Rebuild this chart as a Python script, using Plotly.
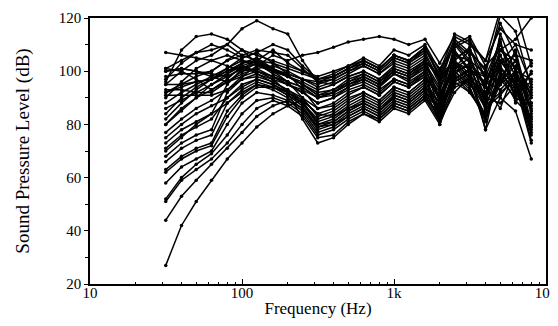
import plotly.graph_objects as go

freqs = [31.5, 40, 50, 63, 80, 100, 125, 160, 200, 250, 315, 400, 500, 630,
         800, 1000, 1250, 1600, 2000, 2500, 3150, 4000, 5000, 6300, 8000]

c01 = [95, 100, 104, 106, 110, 116, 119, 116, 114, 104, 96, 95, 98, 100, 97, 102, 100, 104, 98, 104, 109, 92, 103, 110, 95]
c02 = [96, 108, 113, 114, 112, 108, 103, 100, 98, 95, 92, 93, 96, 99, 96, 101, 99, 103, 90, 108, 100, 99, 95, 104, 88]
c03 = [107, 106, 105, 104, 102, 100, 101, 102, 100, 97, 94, 96, 99, 102, 99, 104, 102, 106, 95, 111, 106, 88, 114, 100, 97]
c04 = [101, 104, 107, 108, 110, 106, 104, 108, 103, 100, 98, 100, 102, 104, 101, 106, 104, 108, 101, 109, 112, 97, 106, 95, 103]
c05 = [100, 101, 100, 98, 96, 98, 102, 106, 104, 106, 107, 109, 111, 112, 113, 112, 110, 112, 103, 113, 110, 104, 116, 110, 108]
c06 = [92, 95, 98, 100, 104, 108, 106, 104, 102, 100, 97, 98, 101, 103, 100, 105, 103, 107, 96, 105, 108, 100, 95, 108, 85]
c07 = [100, 101, 100, 99, 98, 101, 104, 100, 99, 97, 95, 97, 100, 102, 99, 103, 101, 105, 88, 110, 103, 94, 110, 98, 92]
c08 = [95, 95, 96, 97, 99, 103, 105, 101, 98, 96, 93, 95, 98, 100, 97, 101, 99, 104, 97, 104, 99, 86, 103, 106, 80]
c09 = [93, 93, 92, 92, 96, 100, 103, 99, 96, 94, 90, 92, 96, 98, 95, 99, 97, 102, 85, 107, 101, 95, 100, 92, 96]
c10 = [91, 91, 91, 91, 93, 98, 100, 98, 95, 92, 88, 90, 94, 96, 93, 97, 95, 100, 92, 101, 105, 90, 108, 101, 86]
c11 = [101, 100, 97, 93, 97, 102, 99, 97, 95, 93, 90, 92, 95, 97, 94, 99, 97, 101, 89, 103, 96, 83, 98, 104, 90]
c12 = [84, 90, 94, 97, 100, 102, 104, 101, 98, 95, 91, 93, 97, 99, 96, 100, 98, 103, 94, 107, 100, 98, 111, 93, 99]
c13 = [80, 86, 90, 93, 96, 99, 101, 98, 95, 92, 88, 90, 93, 95, 92, 97, 95, 99, 83, 100, 102, 88, 97, 107, 84]
c14 = [77, 82, 86, 89, 93, 97, 99, 96, 93, 90, 86, 88, 92, 94, 91, 96, 94, 98, 90, 104, 97, 92, 104, 96, 78]
c15 = [75, 80, 84, 87, 90, 94, 97, 95, 92, 89, 84, 86, 90, 92, 89, 94, 92, 97, 82, 99, 103, 85, 96, 102, 93]
c16 = [73, 78, 81, 84, 88, 92, 95, 94, 91, 88, 82, 84, 88, 91, 88, 93, 91, 96, 88, 102, 95, 89, 106, 94, 82]
c17 = [71, 76, 79, 82, 90, 95, 97, 95, 92, 88, 81, 83, 87, 90, 87, 92, 90, 95, 84, 97, 100, 96, 93, 99, 76]
c18 = [68, 73, 76, 78, 92, 97, 98, 96, 93, 89, 80, 82, 86, 89, 86, 91, 89, 94, 86, 100, 94, 81, 100, 91, 88]
c19 = [66, 71, 74, 76, 88, 93, 96, 94, 91, 87, 79, 81, 85, 88, 85, 90, 88, 93, 81, 96, 99, 87, 92, 97, 74]
c20 = [63, 68, 71, 73, 85, 91, 95, 93, 90, 86, 78, 80, 84, 87, 84, 89, 87, 92, 87, 98, 92, 84, 99, 89, 83]
c21 = [58, 64, 67, 70, 80, 88, 92, 91, 89, 85, 77, 79, 83, 86, 83, 88, 86, 91, 82, 95, 97, 90, 88, 95, 77]
c22 = [52, 60, 65, 69, 76, 84, 89, 90, 88, 84, 76, 78, 82, 85, 82, 87, 85, 90, 84, 99, 93, 82, 97, 90, 87]
c23 = [51, 59, 63, 67, 73, 80, 86, 89, 87, 83, 75, 76, 81, 84, 81, 86, 84, 89, 80, 94, 96, 86, 91, 98, 79]
c24 = [44, 53, 59, 65, 71, 77, 83, 87, 89, 86, 79, 80, 83, 86, 83, 88, 86, 91, 86, 97, 101, 89, 102, 93, 81]
c25 = [27, 42, 51, 59, 67, 73, 79, 84, 87, 89, 84, 83, 86, 88, 85, 90, 88, 93, 85, 96, 92, 83, 95, 100, 85]
c26 = [80, 85, 90, 95, 99, 102, 100, 97, 92, 82, 73, 75, 80, 84, 82, 87, 85, 90, 81, 92, 98, 78, 90, 85, 67]
c27 = [98, 99, 99, 100, 104, 106, 108, 107, 106, 101, 96, 97, 100, 103, 100, 105, 103, 108, 99, 112, 107, 101, 118, 106, 104]
c28 = [92, 94, 96, 97, 100, 103, 104, 103, 101, 99, 97, 99, 102, 105, 102, 108, 106, 110, 100, 114, 111, 104, 123, 123, 102]
c29 = [88, 92, 95, 98, 101, 104, 103, 101, 99, 97, 96, 98, 101, 104, 101, 106, 104, 109, 98, 110, 113, 102, 108, 112, 120]
c30 = [86, 89, 92, 95, 98, 101, 100, 98, 96, 94, 90, 91, 94, 97, 94, 99, 96, 100, 80, 103, 101, 78, 104, 96, 82]
c31 = [90, 96, 101, 104, 106, 104, 102, 100, 98, 95, 91, 92, 95, 98, 95, 100, 98, 102, 93, 106, 104, 95, 112, 88, 100]
c32 = [82, 88, 93, 97, 101, 105, 107, 103, 99, 93, 86, 87, 91, 94, 91, 96, 94, 99, 89, 101, 108, 97, 101, 95, 73]
c33 = [70, 75, 80, 84, 95, 101, 103, 100, 96, 90, 83, 85, 89, 92, 89, 94, 92, 97, 91, 100, 95, 91, 108, 104, 91]
c34 = [62, 67, 70, 72, 83, 90, 94, 94, 92, 88, 80, 81, 85, 88, 85, 91, 89, 94, 88, 103, 98, 94, 86, 101, 79]
c35 = [97, 103, 107, 110, 108, 105, 107, 110, 108, 102, 97, 98, 101, 104, 101, 106, 104, 109, 97, 111, 104, 99, 121, 115, 94]

curves = [c01, c02, c03, c04, c05, c06, c07, c08, c09, c10, c11, c12, c13, c14, c15,
          c16, c17, c18, c19, c20, c21, c22, c23, c24, c25, c26, c27, c28, c29, c30,
          c31, c32, c33, c34, c35]

x_tickvals = [10, 100, 1000, 10000]
x_ticktext = ["10", "100", "1k", "10k"]
y_tickvals = [20, 40, 60, 80, 100, 120]

SERIF = "Liberation Serif, Times New Roman, Times, serif"

fig = go.Figure()
for c in curves:
    fig.add_trace(go.Scatter(x=freqs, y=c, mode="lines+markers",
                             line=dict(color="black", width=1.5),
                             marker=dict(color="black", size=3.5),
                             showlegend=False))

# the page body has an 8px margin (left/top), so the figure is drawn 8px smaller
fig.update_layout(
    width=550, height=318,
    margin=dict(l=82, r=12, t=10, b=42),
    paper_bgcolor="white", plot_bgcolor="white",
    font=dict(family=SERIF, size=15, color="black"),
)
fig.update_xaxes(type="log", range=[1, 4], tickvals=x_tickvals, ticktext=x_ticktext,
                 ticks="inside", ticklen=5, tickcolor="black", automargin=False,
                 ticklabelstandoff=-6, ticklabeloverflow="allow",
                 minor=dict(ticks="inside", ticklen=2, tickcolor="black", dtick="D1"),
                 showgrid=False, zeroline=False,
                 showline=True, linecolor="black", linewidth=1.5, mirror=True,
                 title=dict(text="Frequency (Hz)", font=dict(size=17, family=SERIF), standoff=2),
                 tickfont=dict(size=15, family=SERIF))
fig.update_yaxes(range=[20, 120], tickvals=y_tickvals,
                 ticks="outside", ticklen=4, tickcolor="black", automargin=False,
                 minor=dict(ticks="outside", ticklen=3, tickcolor="black", dtick=10),
                 showgrid=False, zeroline=False,
                 showline=True, linecolor="black", linewidth=1.5, mirror=True,
                 title=dict(text="Sound Pressure Level (dB)", font=dict(size=19, family=SERIF), standoff=24),
                 tickfont=dict(size=15, family=SERIF))

fig.write_html("out.html")
